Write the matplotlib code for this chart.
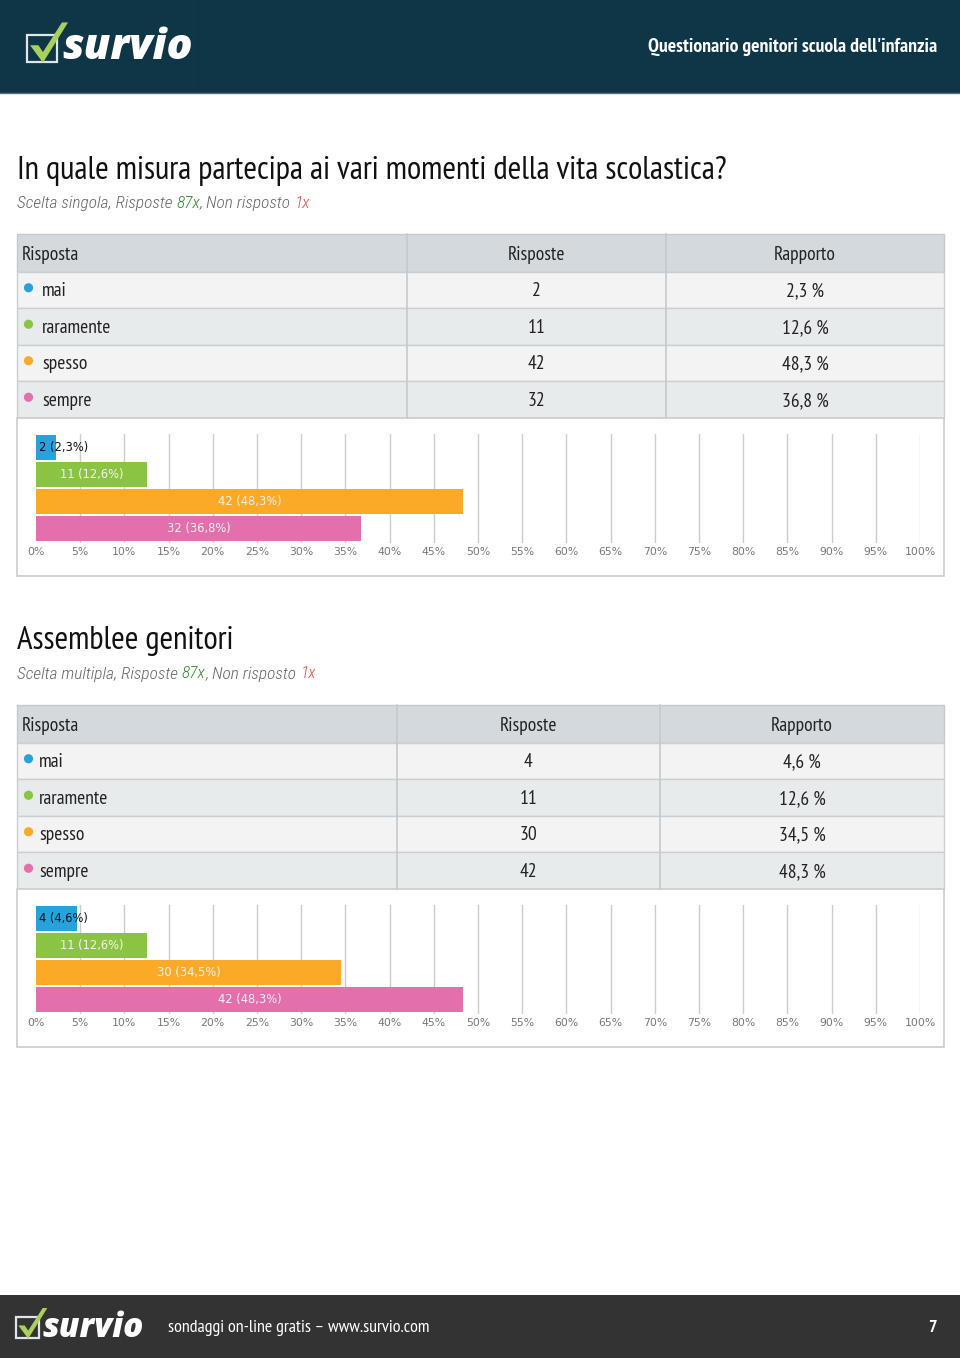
import numpy as np
import matplotlib
matplotlib.use('Agg')
import matplotlib.pyplot as plt
from matplotlib import font_manager as fm
from matplotlib.patches import Rectangle, Circle, Polygon

# ---- data
header_title = "Questionario genitori scuola dell'infanzia"
categories = ['mai', 'raramente', 'spesso', 'sempre']
colors = ['#27a2dd', '#8bc443', '#fbaa27', '#e46fad']

q1_title = "In quale misura partecipa ai vari momenti della vita scolastica?"
q1_kind = "Scelta singola"
q1_counts = [2, 11, 42, 32]
q1_pcts = [2.3, 12.6, 48.3, 36.8]

q2_title = "Assemblee genitori"
q2_kind = "Scelta multipla"
q2_counts = [4, 11, 30, 42]
q2_pcts = [4.6, 12.6, 34.5, 48.3]

answered = 87
not_answered = 1
page_no = 7
ticks = np.arange(0, 101, 5)

W, H = 960, 1358

# pick narrow families, whatever is there
have = {f.name for f in fm.fontManager.ttflist}
have_it = {f.name for f in fm.fontManager.ttflist if f.style == 'italic'}
narrow = 'DejaVu Sans'
for cand in ['PT Sans Narrow', 'Roboto Condensed', 'Archivo Narrow', 'Liberation Sans Narrow']:
    if cand in have:
        narrow = cand
        break
narrow_it = 'DejaVu Sans'
for cand in ['Roboto Condensed', 'Archivo Narrow', 'Fira Sans Condensed',
             'Encode Sans Condensed', 'Open Sans Condensed', 'PT Sans']:
    if cand in have_it:
        narrow_it = cand
        break
NARROW = [narrow, 'DejaVu Sans']
NARROW_IT = [narrow_it, 'DejaVu Sans']

fig = plt.figure(figsize=(W / 100, H / 100), dpi=100)
bg = fig.add_axes([0, 0, 1, 1])
bg.set_xlim(0, W)
bg.set_ylim(H, 0)
bg.axis('off')
renderer = fig.canvas.get_renderer()


def comma(v):
    return ('%.1f' % v).replace('.', ',')


def logo(x, y, s, txtsize):
    # little box + green check mark, then the word
    bg.add_patch(Rectangle((x, y - 0.3 * s), 0.78 * s, 0.72 * s, fill=False,
                           ec='#dfe6e8', lw=1.6))
    bg.add_patch(Polygon([(x + 0.08 * s, y - 0.02 * s), (x + 0.3 * s, y - 0.02 * s),
                          (x + 0.42 * s, y + 0.16 * s), (x + 0.92 * s, y - 0.62 * s),
                          (x + 1.08 * s, y - 0.62 * s), (x + 0.42 * s, y + 0.44 * s)],
                         closed=True, fc='#a9cf5c', ec='none'))
    bg.text(x + 0.92 * s, y + 0.06 * s, 'survio', color='white', fontsize=txtsize,
            fontweight='heavy', fontstyle='italic', family=['Open Sans', 'DejaVu Sans'],
            va='center', ha='left')


def runs(x, y, parts, size):
    for txt, col in parts:
        t = bg.text(x, y, txt, color=col, fontsize=size, fontstyle='italic',
                    fontweight='light', family=NARROW_IT, va='center', ha='left')
        x = t.get_window_extent(renderer).x1


def section(top, title, kind, counts, pcts, col_x, text_x):
    # title + subtitle
    bg.text(17, top + 2.5, title, fontsize=23.6, family=NARROW, color='#111111',
            va='center', ha='left')
    runs(17, top + 35, [(kind + ', Risposte ', '#666666'), ('%dx' % answered, '#2e8b2e'),
                        (', Non risposto ', '#666666'), ('%dx' % not_answered, '#d9534f')], 12.5)

    # table
    t0 = top + 66
    rh = 36.5
    bg.add_patch(Rectangle((17, t0), 927, rh + 1, fc='#d3d9dd', ec='#c3c9cc', lw=1))
    for i in range(len(categories)):
        y = t0 + rh + 1 + i * rh
        bg.add_patch(Rectangle((17, y), 927, rh, fc='#f3f3f3' if i % 2 == 0 else '#e8ebec',
                               ec='#c9cfd2', lw=1))
    for cx in col_x[1:3]:
        bg.plot([cx, cx], [t0, t0 + rh + 1 + 4 * rh], color='#c3c9cc', lw=1.2)
    c1 = (col_x[1] + col_x[2]) / 2
    c2 = (col_x[2] + col_x[3]) / 2
    hy = t0 + rh / 2 + 2.5
    bg.text(22, hy, 'Risposta', fontsize=14, family=NARROW, color='#222222', va='center')
    bg.text(c1, hy, 'Risposte', fontsize=14, family=NARROW, color='#222222', va='center', ha='center')
    bg.text(c2, hy, 'Rapporto', fontsize=14, family=NARROW, color='#222222', va='center', ha='center')
    for i, cat in enumerate(categories):
        y = t0 + rh + 1 + i * rh + rh / 2 + 1.5
        bg.add_patch(Circle((28.5, y - 3.5), 4.6, fc=colors[i], ec='none'))
        bg.text(text_x, y, cat, fontsize=14, family=NARROW, color='#222222', va='center')
        bg.text(c1, y, str(counts[i]), fontsize=14, family=NARROW, color='#222222',
                va='center', ha='center')
        bg.text(c2, y, comma(pcts[i]) + ' %', fontsize=14, family=NARROW, color='#222222',
                va='center', ha='center')

    # chart box
    b0 = t0 + rh + 1 + 4 * rh
    bg.add_patch(Rectangle((17, b0), 927, 158, fc='white', ec='#cccccc', lw=1.2))

    # bar chart
    gtop = b0 + 16
    ax = fig.add_axes([36 / W, 1 - (gtop + 109) / H, 884 / W, 109 / H])
    ax.set_xlim(0, 100)
    ax.set_ylim(3.52, -0.52)
    ax.set_xticks(ticks)
    ax.set_xticklabels(['%d%%' % t for t in ticks], fontsize=7.8, color='#777777')
    ax.tick_params(axis='x', length=0, pad=3.5)
    ax.set_yticks([])
    for s in ax.spines.values():
        s.set_visible(False)
    ax.patch.set_alpha(0)
    for t in ticks[1:]:
        ax.axvline(t, color='#cccccc', lw=1, zorder=0)
    ax.barh(range(len(categories)), pcts, height=0.9, color=colors, zorder=2)
    for i, (n, p) in enumerate(zip(counts, pcts)):
        lab = '%d (%s%%)' % (n, comma(p))
        if p < 8:
            ax.text(0.35, i, lab, fontsize=8.3, color='#111111', va='center', ha='left', zorder=3)
        else:
            ax.text(p / 2, i, lab, fontsize=8.3, color='#f4f4f4', va='center', ha='center', zorder=3)


# header
bg.add_patch(Rectangle((0, 0), W, 93, fc='#0f3647', ec='none'))
bg.plot([193, 193], [0, 92], color='#14394a', lw=1)
bg.plot([0, W], [92.5, 92.5], color='#56707a', lw=1)
logo(27, 46, 38, 31)
bg.text(937, 47, header_title, color='white', fontsize=14.2, fontweight='bold',
        family=NARROW, va='center', ha='right')

section(168, q1_title, q1_kind, q1_counts, q1_pcts, [17, 407, 666, 944], 42)
section(639, q2_title, q2_kind, q2_counts, q2_pcts, [17, 397, 660, 944], 39)

# footer
bg.add_patch(Rectangle((0, 1295), W, 63, fc='#333333', ec='none'))
logo(16, 1326, 29, 24)
bg.text(168, 1328, 'sondaggi on-line gratis \u2013 www.survio.com', color='white',
        fontsize=13, family=NARROW, va='center', ha='left')
bg.text(937, 1328, str(page_no), color='white', fontsize=13, fontweight='bold',
        family=NARROW, va='center', ha='right')

fig.savefig('out.png', dpi=100)
